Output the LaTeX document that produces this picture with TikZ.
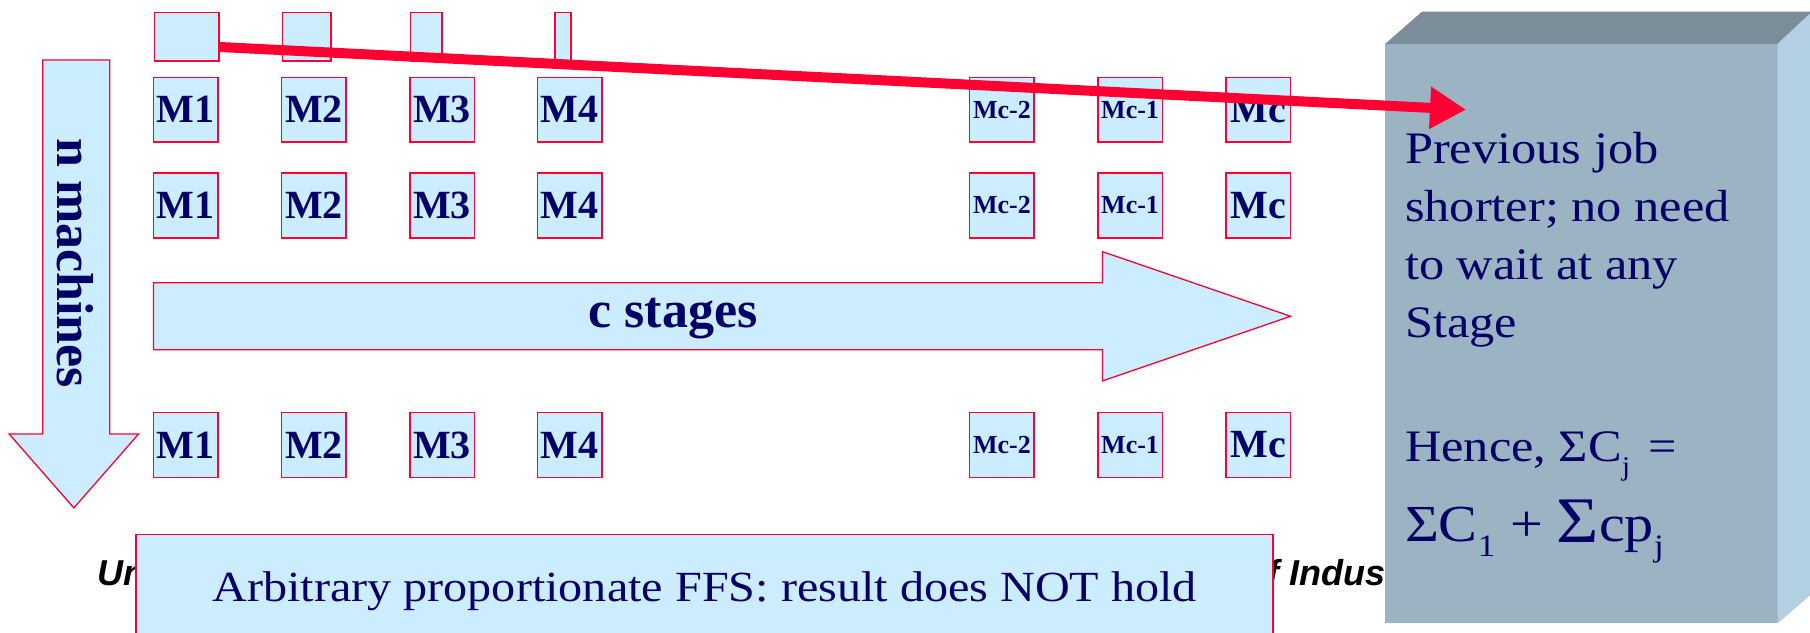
\documentclass[tikz,border=0pt]{standalone}
\usepackage{graphicx}
\usepackage{fontspec}
\setmainfont{Liberation Serif}
\newfontfamily\notefont[FakeStretch=1.12]{Liberation Serif}
\newfontfamily\footfont{Liberation Sans}
\usetikzlibrary{arrows.meta,calc}

\definecolor{boxfill}{HTML}{CCECFF}
\definecolor{boxline}{HTML}{FF0033}
\definecolor{navy}{HTML}{000066}
\definecolor{slabtop}{HTML}{7B8D99}
\definecolor{slabfront}{HTML}{9CB3C3}
\definecolor{slabside}{HTML}{B3D0E2}

\newcommand{\lowsub}[1]{\raisebox{-0.3em}{\scalebox{0.6}{#1}}}
\newcommand{\bigsig}{\raisebox{-0.02em}{\scalebox{1.25}{Σ}}}

\tikzset{
  cell/.style={draw=boxline, line width=1.6pt, fill=boxfill, inner sep=0pt,
    minimum width=64.6pt, minimum height=64.6pt, text=navy},
  bigm/.style={cell, font=\fontsize{40}{40}\selectfont\bfseries},
  smallm/.style={cell, font=\fontsize{26}{26}\selectfont\bfseries},
  stub/.style={draw=boxline, line width=1.6pt, fill=boxfill, inner sep=0pt,
    minimum height=48.5pt, anchor=north west},
  bigarrow/.style={draw=boxline, line width=1.3pt, fill=boxfill},
  arrowlabel/.style={text=navy, font=\fontsize{52}{52}\selectfont\bfseries},
  notetext/.style={text=navy, anchor=base west, inner sep=0pt,
    font=\notefont\fontsize{45}{45}\selectfont},
  footer/.style={text=black, inner sep=0pt,
    font=\footfont\fontsize{36}{36}\selectfont\bfseries\itshape},
  resultbox/.style={draw=boxline, line width=1.6pt, fill=boxfill,
    minimum width=1137pt, minimum height=113pt, text=navy,
    font=\notefont\fontsize{43}{43}\selectfont},
  jobarrow/.style={draw=boxline, line width=10pt,
    -{Triangle[length=36pt,width=40pt]}}
}

\begin{document}
\begin{tikzpicture}[x=1.1543pt,y=-1.1543pt]
\useasboundingbox (0,0) rectangle (1568,548);
\clip (0,0) rectangle (1568,548);

% footer line, mostly hidden behind the result box and the slab
\node[footer, anchor=base west] (footL) at (84,507.5) {Un};
\node[footer, anchor=base west] (footR) at (1098,507.5) {f Indus};

% result box at the bottom
\node[resultbox] (result) at (610.5,512) {Arbitrary proportionate FFS: result does NOT hold};

% vertical arrow: machines
\draw[bigarrow] (37,52) -- (95,52) -- (95,376) -- (120,376) -- (64,440)
  -- (8,376) -- (37,376) -- cycle;
\node[arrowlabel, rotate=-90] (nmach) at (65,228) {n machines};

% horizontal arrow: stages
\draw[bigarrow] (133,245) -- (955,245) -- (955,218) -- (1118,274)
  -- (955,330) -- (955,303) -- (133,303) -- cycle;
\node[arrowlabel] (cstage) at (583,276) {c stages};

% processing-time stubs of the first job
\node[stub, minimum width=64.6pt] (tb1) at (133,10) {};
\node[stub, minimum width=48.5pt] (tb2) at (244,10) {};
\node[stub, minimum width=31.2pt] (tb3) at (355,10) {};
\node[stub, minimum width=16.2pt] (tb4) at (480,10) {};

% machine grid
\foreach \r/\y in {1/95, 2/178, 3/385.5} {
  \node[bigm] (m1r\r) at (161,\y) {M1};
  \node[bigm] (m2r\r) at (272,\y) {M2};
  \node[bigm] (m3r\r) at (383,\y) {M3};
  \node[bigm] (m4r\r) at (493.5,\y) {M4};
  \node[smallm] (mc2r\r) at (868,\y) {Mc-2};
  \node[smallm] (mc1r\r) at (979,\y) {Mc-1};
  \node[bigm] (mcr\r) at (1090,\y) {Mc};
}

% 3D slab with the note
\fill[slabfront] (1200,38) rectangle (1540,540);
\fill[slabtop] (1200,38) -- (1232,10) -- (1570,10) -- (1540,38) -- cycle;
\fill[slabside] (1540,38) -- (1570,10) -- (1570,514) -- (1540,540) -- cycle;

\node[notetext] (note1) at (1217,142) {Previous job};
\node[notetext] (note2) at (1217,192) {shorter; no need};
\node[notetext] (note3) at (1217,242) {to wait at any};
\node[notetext] (note4) at (1217,292) {Stage};
\node[notetext] (sum1) at (1217,400) {Hence, ΣC\lowsub{j}\hspace{0.4em}=};
\node[notetext, font=\notefont\fontsize{52}{52}\selectfont] (sum2) at (1217,469)
  {ΣC\lowsub{1}\hspace{0.3em}+\hspace{0.25em}\bigsig cp\lowsub{j}};

% the job's path across all stages
\coordinate (tip) at (1270,95);
\draw[jobarrow] ([yshift=-10.4pt]tb1.east) -- (tip);
\end{tikzpicture}
\end{document}
